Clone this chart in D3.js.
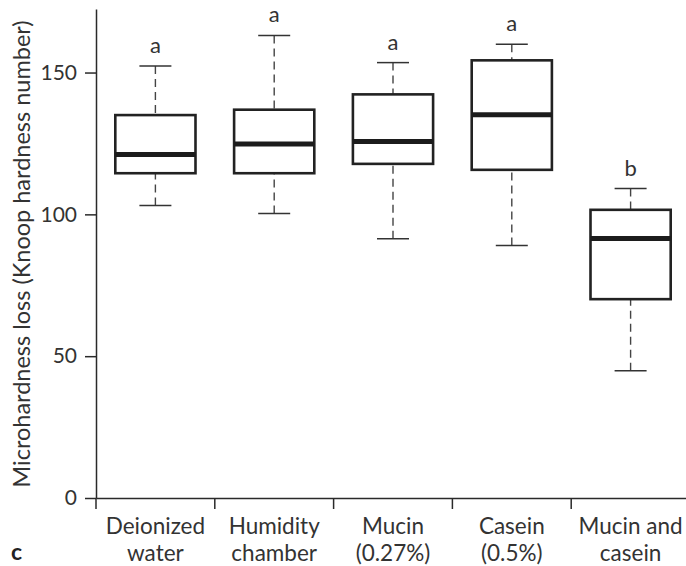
<!DOCTYPE html>
<html lang="en">
<head>
    <meta charset="UTF-8">
    <title>Microhardness loss</title>
    <style>
        body { margin: 0; background: #fff; }
        svg { display: block; font-family: Lato, 'Open Sans', sans-serif; }
    </style>
</head>
<body>
    <script src="https://d3js.org/d3.v7.min.js"></script>
    <script>
        const W = 686
        const H = 566

        // data
        const categories = ['Deionized water', 'Humidity chamber', 'Mucin (0.27%)', 'Casein (0.5%)', 'Mucin and casein']
        const labelLines = [['Deionized', 'water'], ['Humidity', 'chamber'], ['Mucin', '(0.27%)'], ['Casein', '(0.5%)'], ['Mucin and', 'casein']]
        const mins = [103.1, 100.3, 91.4, 89.0, 44.9]
        const q1s = [114.5, 114.5, 117.8, 115.7, 70.1]
        const medians = [121.1, 124.8, 125.7, 135.1, 91.5]
        const q3s = [135.0, 136.9, 142.3, 154.3, 101.6]
        const maxs = [152.3, 163.1, 153.5, 160.0, 109.1]
        const groups = ['a', 'a', 'a', 'a', 'b']
        const yTicks = [0, 50, 100, 150]

        const data = categories.map((c, i) => ({
            name: c, lines: labelLines[i], min: mins[i], q1: q1s[i],
            med: medians[i], q3: q3s[i], max: maxs[i], group: groups[i]
        }))

        const x = d3.scaleBand()
            .domain(categories)
            .range([96, 690])
            .padding(0)

        const y = d3.scaleLinear()
            .domain([0, 172.4])
            .range([498, 9])

        const boxW = x.bandwidth() * 0.675
        const capW = 32
        const ink = '#2a2a2a'
        const font = "Lato, 'Open Sans', sans-serif"

        const svg = d3.select('body')
            .append('svg')
            .attr('width', W)
            .attr('height', H)

        // y axis
        const yAxis = svg.append('g')
            .attr('transform', 'translate(96, 0)')
            .call(d3.axisLeft(y).tickValues(yTicks).tickSize(11).tickSizeOuter(0).tickPadding(8))
        yAxis.select('.domain').attr('stroke', ink).attr('stroke-width', 1.5)
        yAxis.selectAll('.tick line').attr('stroke', ink).attr('stroke-width', 1.5)
        yAxis.selectAll('.tick text')
            .attr('font-size', 21)
            .attr('font-family', font)
            .attr('fill', '#333')

        // x axis: line plus ticks at band boundaries
        const xAxis = svg.append('g')
            .attr('transform', 'translate(0, 498)')
            .call(d3.axisBottom(x).tickSize(0).tickSizeOuter(0).tickFormat(''))
        xAxis.select('.domain').attr('stroke', ink).attr('stroke-width', 1.5)
        xAxis.selectAll('.tick').remove()
        xAxis.selectAll('line.bound')
            .data(categories)
            .enter()
            .append('line')
            .attr('class', 'bound')
            .attr('x1', d => x(d))
            .attr('x2', d => x(d))
            .attr('y1', 0)
            .attr('y2', 11)
            .attr('stroke', ink)
            .attr('stroke-width', 1.5)

        // category labels, one text per line
        const lab = svg.append('g')
            .selectAll('g')
            .data(data)
            .enter()
            .append('g')
            .attr('transform', d => `translate(${x(d.name) + x.bandwidth() / 2}, 534)`)
        lab.selectAll('text')
            .data(d => d.lines)
            .enter()
            .append('text')
            .attr('y', (d, i) => i * 27)
            .attr('text-anchor', 'middle')
            .attr('font-size', 22.5)
            .attr('fill', '#333')
            .text(d => d)

        // boxes
        const box = svg.append('g')
            .selectAll('g')
            .data(data)
            .enter()
            .append('g')
            .attr('transform', d => `translate(${x(d.name) + x.bandwidth() / 2}, 0)`)

        // whiskers
        box.append('line')
            .attr('y1', d => y(d.max))
            .attr('y2', d => y(d.q3))
            .attr('stroke', '#444')
            .attr('stroke-width', 1.4)
            .attr('stroke-dasharray', '8,5')
        box.append('line')
            .attr('y1', d => y(d.min))
            .attr('y2', d => y(d.q1))
            .attr('stroke', '#444')
            .attr('stroke-width', 1.4)
            .attr('stroke-dasharray', '8,5')
        box.append('line')
            .attr('x1', -capW / 2).attr('x2', capW / 2)
            .attr('y1', d => y(d.max)).attr('y2', d => y(d.max))
            .attr('stroke', '#333').attr('stroke-width', 1.5)
        box.append('line')
            .attr('x1', -capW / 2).attr('x2', capW / 2)
            .attr('y1', d => y(d.min)).attr('y2', d => y(d.min))
            .attr('stroke', '#333').attr('stroke-width', 1.5)

        box.append('rect')
            .attr('x', -boxW / 2)
            .attr('width', boxW)
            .attr('y', d => y(d.q3))
            .attr('height', d => y(d.q1) - y(d.q3))
            .attr('fill', '#fff')
            .attr('stroke', '#222')
            .attr('stroke-width', 2.6)

        box.append('line')
            .attr('x1', -boxW / 2).attr('x2', boxW / 2)
            .attr('y1', d => y(d.med)).attr('y2', d => y(d.med))
            .attr('stroke', '#1c1c1c')
            .attr('stroke-width', 5)

        box.append('text')
            .attr('y', d => y(d.max) - 13)
            .attr('text-anchor', 'middle')
            .attr('font-size', 22)
            .attr('fill', '#333')
            .text(d => d.group)

        // y axis title
        svg.append('text')
            .attr('transform', 'translate(30, 254) rotate(-90)')
            .attr('text-anchor', 'middle')
            .attr('font-size', 23.5)
            .attr('fill', '#333')
            .text('Microhardness loss (Knoop hardness number)')

        // panel letter
        svg.append('text')
            .attr('x', 11)
            .attr('y', 560)
            .attr('font-size', 23)
            .attr('font-weight', 'bold')
            .attr('fill', '#222')
            .text('c')
    </script>
</body>
</html>
